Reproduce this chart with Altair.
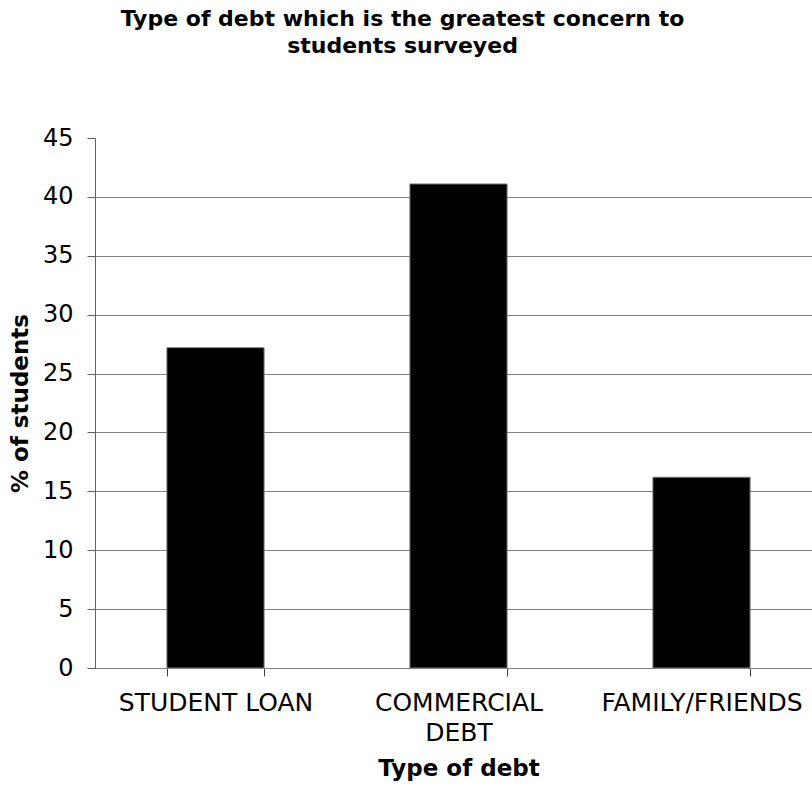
import altair as alt
import pandas as pd

categories = ["STUDENT LOAN", "COMMERCIAL DEBT", "FAMILY/FRIENDS"]
values = [27.2, 41.1, 16.2]
y_ticks = [0, 5, 10, 15, 20, 25, 30, 35, 40, 45]
title_lines = ["Type of debt which is the greatest concern to", "students surveyed"]

df = pd.DataFrame({"type": categories, "pct": values})

FONT = "DejaVu Sans"

chart = alt.Chart(df).mark_bar(
    color="black", stroke="#808080", strokeWidth=1
).encode(
    x=alt.X(
        "type:N",
        sort=categories,
        title="Type of debt",
        scale=alt.Scale(range=[-1, 728], paddingInner=0.6, paddingOuter=0.3),
        axis=alt.Axis(
            labelAngle=0,
            labelFontSize=25,
            labelFont=FONT,
            labelColor="black",
            labelPadding=14,
            labelLineHeight=30,
            labelLimit=400,
            labelExpr="length(datum.label) > 14 ? split(datum.label, ' ') : datum.label",
            tickBand="extent",
            tickSize=8,
            tickColor="#404040",
            domainColor="#808080",
            titleFont=FONT,
            titleFontSize=23,
            titleFontWeight="bold",
            titleColor="black",
            titlePadding=12,
        ),
    ),
    y=alt.Y(
        "pct:Q",
        title="% of students",
        scale=alt.Scale(domain=[0, 45], nice=False),
        axis=alt.Axis(
            values=y_ticks,
            labelFontSize=24,
            labelFont=FONT,
            labelColor="black",
            labelPadding=14,
            tickSize=8,
            tickColor="#606060",
            domainColor="#606060",
            grid=True,
            gridColor="#808080",
            gridOpacity={"condition": {"test": "datum.value === 45", "value": 0}, "value": 1},
            titleFont=FONT,
            titleFontSize=23,
            titleFontWeight="bold",
            titleColor="black",
            titlePadding=10,
        ),
    ),
).properties(
    width=717,
    height=530,
    title=alt.TitleParams(
        text=title_lines,
        font=FONT,
        fontSize=22,
        fontWeight="bold",
        color="black",
        anchor="middle",
        lineHeight=27,
        offset=68,
        dx=-51,
    ),
    autosize=alt.AutoSizeParams(type="none"),
    padding={"left": 95, "top": 138, "right": 0, "bottom": 117},
    background="white",
).configure_view(stroke=None)

chart.save("out.html", embed_options={"renderer": "svg", "actions": False})
